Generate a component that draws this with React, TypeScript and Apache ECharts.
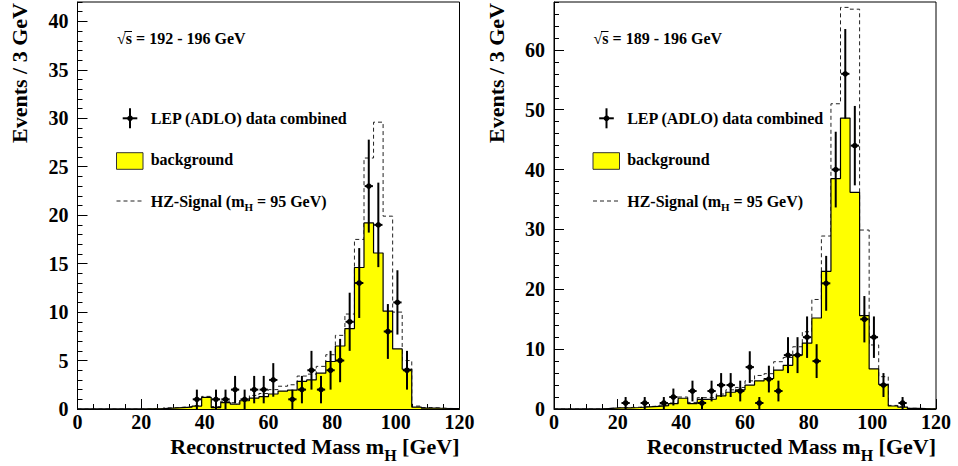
import React, { useEffect, useRef } from "react";
import * as echarts from "echarts";

// ---------- data ----------
const BIN_WIDTH = 3; // GeV per bin
const X_MIN = 0;
const X_MAX = 120;
const X_ERR = 1.3; // half-width of horizontal error bar (GeV)

// bins of 3 GeV from 0 to 120 GeV (40 bins)
const leftBackground = [
  0, 0, 0, 0, 0, 0, 0,
  0.02, 0.03, 0.1, 0.15, 0.2, 0.3, 1.2, 0.15, 0.65, 0.5,
  0.85, 1.13, 1.27, 1.55, 1.85, 1.95, 2.86, 3.0, 3.7, 4.9,
  6.5, 8.3, 14.6, 19.2, 16.1, 10.1, 6.2, 4.1, 0.2, 0.1,
  0.08, 0.05, 0.03,
];
const leftTotal = [
  0, 0, 0, 0, 0, 0, 0,
  0.03, 0.04, 0.12, 0.18, 0.25, 0.35, 1.3, 0.25, 0.8, 0.65,
  1.0, 1.4, 1.6, 2.0, 2.35, 2.5, 3.4, 3.6, 4.4, 5.6,
  7.6, 9.8, 17.5, 25.9, 29.6, 19.9, 10.0, 5.0, 0.3, 0.15,
  0.1, 0.06, 0.04,
];
const leftCounts = [
  0, 0, 0, 0, 0, 0, 0, 0, 0, 0, 0, 0,
  1, 0, 1, 1, 2, 1, 2, 2, 3, 0, 1, 2, 4, 2, 4, 5, 9, 13, 23, 19, 8, 11, 4,
  0, 0, 0, 0, 0,
];

const rightBackground = [
  0, 0, 0, 0, 0,
  0.1, 0.2, 0.2, 0.25, 0.35, 0.45, 0.55, 0.9, 1.8, 0.9,
  1.6, 1.65, 2.2, 2.8, 3.2, 4.0, 4.7, 5.1, 6.5, 7.3,
  9.0, 11.0, 15.2, 23.0, 38.5, 48.6, 36.2, 15.6, 6.7, 4.1,
  0.5, 0.3, 0.1, 0.05, 0.03,
];
const rightTotal = [
  0, 0, 0, 0, 0,
  0.1, 0.2, 0.25, 0.3, 0.4, 0.5, 0.65, 1.0, 2.0, 1.1,
  1.9, 1.9, 2.5, 3.2, 3.6, 4.7, 5.6, 5.9, 7.9, 8.6,
  10.4, 12.9, 18.3, 28.9, 51.0, 67.1, 66.8, 29.9, 10.7, 5.4,
  0.6, 0.35, 0.12, 0.06, 0.04,
];
const rightCounts = [
  0, 0, 0, 0, 0, 0, 0,
  1, 0, 1, 0, 1, 2, 0, 3, 1, 3, 4, 4, 3, 7, 1, 5, 3, 9, 9, 12, 8, 21, 40, 56, 44, 15, 12, 4, 0, 1,
  0, 0, 0,
];

const leftEnergyLabel = "192 - 196 GeV";
const rightEnergyLabel = "189 - 196 GeV";
const legendData = "LEP (ADLO) data combined";
const legendBackground = "background";
const yTitle = "Events / 3 GeV";

const FONT = "Liberation Serif, serif";

const stepData = (vals: number[]) => {
  const pts = vals.map((v, i) => [X_MIN + i * BIN_WIDTH, v]);
  pts.push([X_MIN + vals.length * BIN_WIDTH, vals[vals.length - 1]]);
  return pts;
};
const pointData = (counts: number[]) =>
  counts
    .map((n, i) => [X_MIN + (i + 0.5) * BIN_WIDTH, n, Math.sqrt(n)])
    .filter((d) => d[1] > 0);

type Panel = {
  bg: number[];
  total: number[];
  counts: number[];
  yMax: number;
  yMajor: number;
  yMinor: number;
  left: number;
  energy: string;
};

const panels: Panel[] = [
  { bg: leftBackground, total: leftTotal, counts: leftCounts, yMax: 42, yMajor: 5, yMinor: 1, left: 77.5, energy: leftEnergyLabel },
  { bg: rightBackground, total: rightTotal, counts: rightCounts, yMax: 68, yMajor: 10, yMinor: 2, left: 554, energy: rightEnergyLabel },
];

const GRID_TOP = 2;
const GRID_H = 407;
const GRID_W = 382;

export default function App() {
  const ref = useRef<HTMLDivElement>(null);
  useEffect(() => {
    if (!ref.current) return;
    const chart = echarts.init(ref.current, undefined, { renderer: "svg" });

    const grids: any[] = [];
    const xAxes: any[] = [];
    const yAxes: any[] = [];
    const series: any[] = [];
    const elements: any[] = [];

    panels.forEach((p, k) => {
      grids.push({
        left: p.left,
        top: GRID_TOP,
        width: GRID_W,
        height: GRID_H,
        show: true,
        borderColor: "#000",
        borderWidth: 1,
        backgroundColor: "transparent",
        containLabel: false,
        outerBoundsMode: "none",
      });
      xAxes.push({
        type: "value",
        gridIndex: k,
        min: X_MIN,
        max: X_MAX,
        interval: 20,
        axisLine: { show: true, lineStyle: { color: "#000", width: 1 } },
        axisTick: { show: true, inside: true, length: 10, lineStyle: { color: "#000", width: 1 } },
        minorTick: { show: true, splitNumber: 4, length: 5, lineStyle: { color: "#000", width: 1 } },
        splitLine: { show: false },
        minorSplitLine: { show: false },
        axisLabel: { fontSize: 20, fontWeight: "bold", fontFamily: FONT, color: "#000", margin: 3 },
      });
      // major ticks + labels
      yAxes.push({
        type: "value",
        gridIndex: k,
        position: "left",
        min: 0,
        max: p.yMax,
        interval: p.yMajor,
        axisLine: { show: true, lineStyle: { color: "#000", width: 1 } },
        axisTick: { show: true, inside: true, length: 10, lineStyle: { color: "#000", width: 1 } },
        splitLine: { show: false },
        axisLabel: { fontSize: 20, fontWeight: "bold", fontFamily: FONT, color: "#000", margin: 9, showMaxLabel: false },
      });
      // minor ticks
      yAxes.push({
        type: "value",
        gridIndex: k,
        position: "left",
        min: 0,
        max: p.yMax,
        interval: p.yMinor,
        axisLine: { show: false },
        axisTick: { show: true, inside: true, length: 5, lineStyle: { color: "#000", width: 1 } },
        splitLine: { show: false },
        axisLabel: { show: false },
      });
      const yIdx = k * 2;
      series.push({
        type: "line",
        name: "HZ-Signal",
        xAxisIndex: k,
        yAxisIndex: yIdx,
        step: "end",
        data: stepData(p.total),
        symbol: "none",
        lineStyle: { color: "#222", width: 1, type: [4, 3] },
        z: 2,
      });
      series.push({
        type: "line",
        name: "background",
        xAxisIndex: k,
        yAxisIndex: yIdx,
        step: "end",
        data: stepData(p.bg),
        symbol: "none",
        lineStyle: { color: "#000", width: 1.2 },
        areaStyle: { color: "#ffff00", opacity: 1, origin: "start" },
        z: 3,
      });
      series.push({
        type: "custom",
        name: "data",
        xAxisIndex: k,
        yAxisIndex: yIdx,
        data: pointData(p.counts),
        encode: { x: 0, y: 1 },
        z: 5,
        renderItem: (_params: any, api: any) => {
          const x = api.value(0);
          const y = api.value(1);
          const e = api.value(2);
          const c = api.coord([x, y]);
          const top = api.coord([x, y + e]);
          const bot = api.coord([x, Math.max(0, y - e)]);
          const l = api.coord([x - X_ERR, y]);
          const r = api.coord([x + X_ERR, y]);
          return {
            type: "group",
            children: [
              { type: "line", shape: { x1: c[0], y1: top[1], x2: c[0], y2: bot[1] }, style: { stroke: "#000", lineWidth: 2 } },
              { type: "line", shape: { x1: l[0], y1: c[1], x2: r[0], y2: c[1] }, style: { stroke: "#000", lineWidth: 2 } },
              { type: "circle", shape: { cx: c[0], cy: c[1], r: 2.8 }, style: { fill: "#000" } },
            ],
          };
        },
      });

      // ---------- annotations / legend ----------
      const ox = p.left;
      const txt = (x: number, y: number, text: string, extra: any = {}) => ({
        type: "text",
        x,
        y,
        z: 10,
        style: {
          text,
          fontSize: 16,
          fontWeight: "bold",
          fontFamily: FONT,
          fill: "#000",
          align: "left",
          verticalAlign: "middle",
          ...extra,
        },
      });
      elements.push(txt(ox + 39.5, 38, "\u221As = " + p.energy));
      // overline of the square root
      elements.push({ type: "line", z: 10, shape: { x1: ox + 47, y1: 31.5, x2: ox + 54.5, y2: 31.5 }, style: { stroke: "#000", lineWidth: 1 } });
      // data marker
      elements.push({ type: "line", z: 10, shape: { x1: ox + 52.5, y1: 108.3, x2: ox + 52.5, y2: 128.3 }, style: { stroke: "#000", lineWidth: 2 } });
      elements.push({ type: "line", z: 10, shape: { x1: ox + 45.2, y1: 118.3, x2: ox + 59.8, y2: 118.3 }, style: { stroke: "#000", lineWidth: 2 } });
      elements.push({ type: "circle", z: 10, shape: { cx: ox + 52.5, cy: 118.3, r: 2.8 }, style: { fill: "#000" } });
      elements.push(txt(ox + 73.2, 118.5, legendData));
      // background box
      elements.push({ type: "rect", z: 10, shape: { x: ox + 39, y: 152.7, width: 26.5, height: 16.6 }, style: { fill: "#ffff00", stroke: "#333", lineWidth: 1 } });
      elements.push(txt(ox + 73.2, 159.5, legendBackground));
      // signal dashed line
      elements.push({ type: "line", z: 10, shape: { x1: ox + 39, y1: 201, x2: ox + 65.5, y2: 201 }, style: { stroke: "#222", lineWidth: 1, lineDash: [4, 3] } });
      elements.push(
        txt(ox + 73.2, 201, "HZ-Signal (m{sub|H} = 95 GeV)", {
          rich: { sub: { fontSize: 11, fontWeight: "bold", fontFamily: FONT, fill: "#000", padding: [11, 0, 0, 0] } },
        })
      );
      // y-axis title
      elements.push({
        type: "text",
        x: ox - 58,
        y: 3,
        rotation: Math.PI / 2,
        z: 10,
        style: { text: yTitle, fontSize: 22, fontWeight: "bold", fontFamily: FONT, fill: "#000", align: "right", verticalAlign: "middle" },
      });
      // x-axis title
      elements.push({
        type: "text",
        x: ox + GRID_W,
        y: 446,
        z: 10,
        style: {
          text: "Reconstructed Mass m{sub|H} [GeV]",
          fontSize: 22,
          fontWeight: "bold",
          fontFamily: FONT,
          fill: "#000",
          align: "right",
          verticalAlign: "middle",
          rich: { sub: { fontSize: 16, fontWeight: "bold", fontFamily: FONT, fill: "#000", padding: [18, 0, 0, 0] } },
        },
      });
    });

    chart.setOption({
      animation: false,
      backgroundColor: "#fff",
      grid: grids,
      xAxis: xAxes,
      yAxis: yAxes,
      series,
      graphic: { elements },
    });
    return () => chart.dispose();
  }, []);

  return <div ref={ref} style={{ position: "fixed", left: 0, top: 0, width: 958, height: 466 }} />;
}
